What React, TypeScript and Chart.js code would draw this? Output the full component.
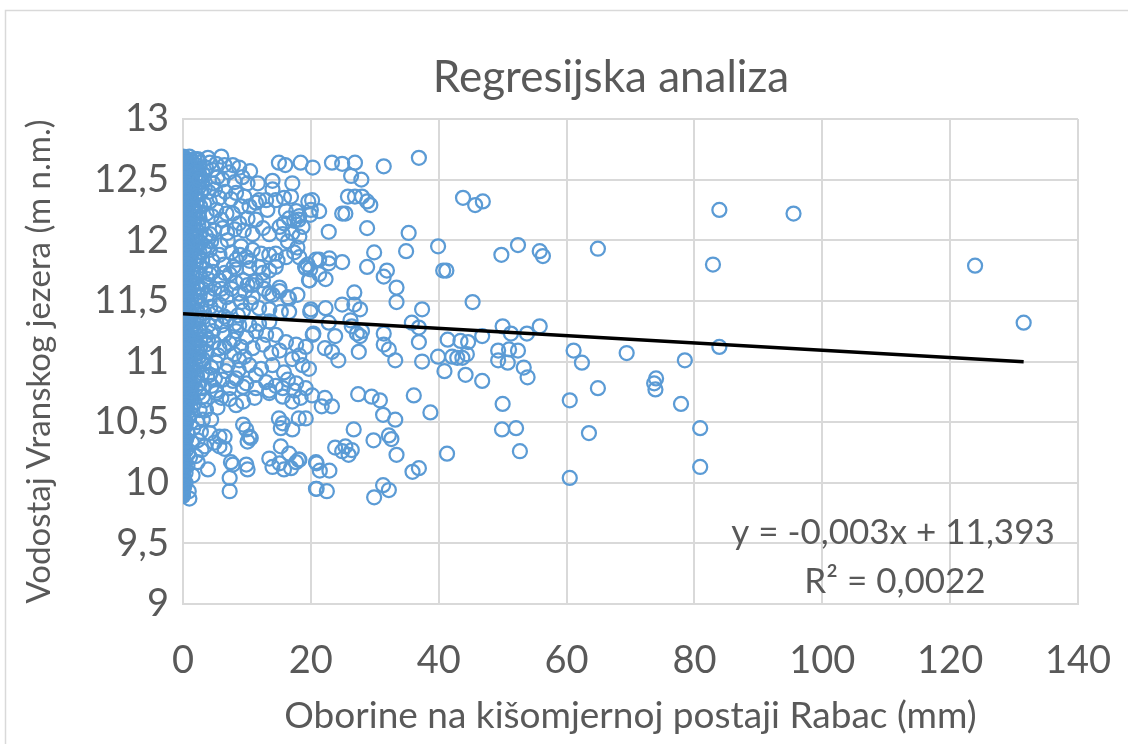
import { useEffect, useRef } from 'react';
import { Chart, registerables } from 'chart.js';

Chart.register(...registerables);

// ---------- data ----------
const CHART_TITLE = 'Regresijska analiza';
const X_TITLE = 'Oborine na kišomjernoj postaji Rabac (mm)';
const Y_TITLE = 'Vodostaj Vranskog jezera (m n.m.)';
const TREND_SLOPE = -0.003;
const TREND_INTERCEPT = 11.393;
const TREND_LABEL = 'y = -0,003x + 11,393';
const R2_LABEL = 'R² = 0,0022';
const X_MIN = 0, X_MAX = 140, X_STEP = 20;
const Y_MIN = 9, Y_MAX = 13, Y_STEP = 0.5;

// water level on days without rain (x = 0 mm)
const DRY_DAY_LEVELS = [
  9.90, 9.92, 9.93, 9.95, 9.97, 9.99, 10.01, 10.02, 10.04, 10.06, 10.08, 10.10, 10.11, 10.13, 10.15,
  10.17, 10.19, 10.20, 10.22, 10.24, 10.26, 10.28, 10.29, 10.31, 10.33, 10.35, 10.37, 10.38, 10.40,
  10.42, 10.44, 10.46, 10.47, 10.49, 10.51, 10.53, 10.55, 10.56, 10.58, 10.60, 10.62, 10.64, 10.65,
  10.67, 10.69, 10.71, 10.73, 10.74, 10.76, 10.78, 10.80, 10.82, 10.83, 10.85, 10.87, 10.89, 10.91,
  10.92, 10.94, 10.96, 10.98, 11.00, 11.01, 11.03, 11.05, 11.07, 11.09, 11.10, 11.12, 11.14, 11.16,
  11.18, 11.19, 11.21, 11.23, 11.25, 11.27, 11.28, 11.30, 11.32, 11.34, 11.36, 11.37, 11.39, 11.41,
  11.43, 11.45, 11.46, 11.48, 11.50, 11.52, 11.54, 11.55, 11.57, 11.59, 11.61, 11.63, 11.64, 11.66,
  11.68, 11.70, 11.72, 11.73, 11.75, 11.77, 11.79, 11.81, 11.82, 11.84, 11.86, 11.88, 11.90, 11.91,
  11.93, 11.95, 11.97, 11.99, 12.00, 12.02, 12.04, 12.06, 12.08, 12.09, 12.11, 12.13, 12.15, 12.17,
  12.18, 12.20, 12.22, 12.24, 12.26, 12.27, 12.29, 12.31, 12.33, 12.35, 12.36, 12.38, 12.40, 12.42,
  12.44, 12.45, 12.47, 12.49, 12.51, 12.53, 12.54, 12.56, 12.58, 12.60, 12.62, 12.63, 12.65, 12.67, 12.69,
];

// more dry days (the x = 0 column is solid in the source)
const DRY_DAY_LEVELS_2 = [
  9.89, 9.91, 9.94, 9.96, 9.98, 10.00, 10.03, 10.05, 10.07, 10.09, 10.12, 10.14, 10.16, 10.18, 10.21,
  10.23, 10.25, 10.27, 10.30, 10.32, 10.34, 10.36, 10.39, 10.41, 10.43, 10.45, 10.48, 10.50, 10.52,
  10.54, 10.57, 10.59, 10.61, 10.63, 10.66, 10.68, 10.70, 10.72, 10.75, 10.77, 10.79, 10.81, 10.84,
  10.86, 10.88, 10.90, 10.93, 10.95, 10.97, 10.99, 11.02, 11.04, 11.06, 11.08, 11.11, 11.13, 11.15,
  11.17, 11.20, 11.22, 11.24, 11.26, 11.29, 11.31, 11.33, 11.35, 11.38, 11.40, 11.42, 11.44, 11.47,
  11.49, 11.51, 11.53, 11.56, 11.58, 11.60, 11.62, 11.65, 11.67, 11.69, 11.71, 11.74, 11.76, 11.78,
  11.80, 11.83, 11.85, 11.87, 11.89, 11.92, 11.94, 11.96, 11.98, 12.01, 12.03, 12.05, 12.07, 12.10,
  12.12, 12.14, 12.16, 12.19, 12.21, 12.23, 12.25, 12.28, 12.30, 12.32, 12.34, 12.37, 12.39, 12.41,
  12.43, 12.46, 12.48, 12.50, 12.52, 12.55, 12.57, 12.59, 12.61, 12.64, 12.66, 12.68,
];

// [rain mm, level m] light rain days
const LIGHT_RAIN = [
  [0.3, 12.68], [0.6, 12.66], [1.0, 12.69], [1.4, 12.65], [1.8, 12.67], [0.8, 12.62], [1.2, 12.60],
  [2.0, 12.62], [2.6, 12.64], [0.4, 12.57], [1.6, 12.56], [2.2, 12.58],
  [0.3, 12.52], [0.7, 12.49], [1.1, 12.53], [1.5, 12.46], [2.0, 12.50], [2.5, 12.44], [3.0, 12.48],
  [0.5, 12.42], [0.9, 12.38], [1.3, 12.41], [1.8, 12.36], [2.3, 12.33], [2.8, 12.39], [3.4, 12.43],
  [0.4, 12.33], [1.0, 12.30], [1.6, 12.28], [3.3, 12.30], [2.0, 12.24], [0.6, 12.25],
  [1.2, 12.21], [2.6, 12.18], [0.4, 12.17], [1.8, 12.14], [3.0, 12.12], [0.8, 12.10], [1.4, 12.06],
  [2.2, 12.08], [3.6, 12.04], [0.5, 12.02], [1.0, 11.99], [2.8, 11.98], [1.9, 11.96], [0.7, 11.94], [3.3, 11.92],
  [1.4, 11.90], [2.4, 11.87], [0.5, 11.86], [1.1, 11.82], [2.0, 11.80], [3.0, 11.83], [0.8, 11.77],
  [1.6, 11.74], [2.6, 11.72], [3.5, 11.76], [0.4, 11.70], [1.2, 11.67], [2.2, 11.64], [0.9, 11.61],
  [1.8, 11.58], [3.0, 11.60],
  [0.5, 11.55], [1.3, 11.52], [2.4, 11.50], [0.8, 11.47], [1.7, 11.44], [2.9, 11.46], [0.4, 11.41],
  [1.2, 11.38], [2.1, 11.35], [3.3, 11.40], [0.7, 11.32], [1.6, 11.29], [2.6, 11.27], [0.4, 11.24],
  [1.1, 11.20], [2.0, 11.17], [3.6, 11.21], [0.8, 11.13], [1.5, 11.10], [2.4, 11.07], [0.5, 11.05],
  [1.2, 11.02], [2.8, 11.00],
  [0.6, 10.96], [1.6, 10.93], [2.2, 10.88], [0.9, 10.85], [1.4, 10.80], [0.4, 10.77], [2.5, 10.74],
  [1.0, 10.70], [1.8, 10.66], [0.6, 10.62],
  [1.2, 10.57], [0.5, 10.50], [1.6, 10.45], [0.8, 10.40], [1.4, 10.33], [0.5, 10.27], [1.1, 10.21],
  [0.7, 10.14], [1.5, 10.06], [0.4, 10.00], [0.9, 9.93],
  [3.8, 11.55], [4.0, 11.30], [3.7, 11.08], [4.4, 10.95], [3.9, 11.68], [2.7, 11.12], [3.2, 10.98],
  [2.6, 10.82], [3.4, 10.68], [3.0, 10.90],
];

// more light rain days, dense band next to the dry-day column
const LIGHT_RAIN_2 = [
  [0.2, 12.64], [0.5, 12.60], [0.9, 12.55], [1.3, 12.50], [0.2, 12.46], [0.6, 12.44], [1.0, 12.40],
  [0.3, 12.37], [0.7, 12.34], [1.2, 12.32], [0.2, 12.28], [0.5, 12.21], [0.9, 12.18], [1.5, 12.16],
  [0.2, 12.12], [0.6, 12.08], [1.1, 12.04], [0.3, 12.00], [0.8, 11.97], [1.5, 11.93], [0.2, 11.90],
  [0.6, 11.83], [1.0, 11.79], [0.3, 11.75], [0.7, 11.72], [1.4, 11.70], [0.2, 11.66], [0.6, 11.64],
  [1.0, 11.58], [0.3, 11.53], [0.9, 11.50], [0.2, 11.45], [0.6, 11.43], [1.0, 11.42], [0.3, 11.36],
  [0.9, 11.34], [0.2, 11.30], [0.5, 11.27], [1.3, 11.25], [0.3, 11.19], [0.7, 11.16], [0.2, 11.10],
  [1.0, 11.08], [0.4, 11.03], [0.8, 10.99], [0.2, 10.94], [1.2, 10.90], [0.4, 10.86], [0.8, 10.82],
  [0.2, 10.74], [1.3, 10.72], [0.5, 10.68], [0.2, 10.58], [0.9, 10.54], [0.3, 10.46], [0.5, 10.36],
  [0.2, 10.30], [0.8, 10.24], [0.3, 10.16], [0.4, 10.08], [0.2, 9.97],
  [4.6, 12.58], [5.4, 12.52], [3.6, 12.60], [7.2, 12.56], [8.1, 12.48], [9.3, 12.52], [5.0, 12.42],
  [6.6, 12.40], [7.5, 12.34], [9.6, 12.36], [4.5, 12.20], [6.0, 12.17], [7.8, 12.22], [8.8, 12.14],
  [4.9, 12.08], [6.9, 12.06], [9.5, 12.08], [4.4, 11.99], [5.9, 11.96], [7.6, 11.90], [8.9, 11.88],
  [4.6, 11.83], [6.4, 11.80], [7.9, 11.78], [4.9, 11.60], [6.2, 11.56], [7.6, 11.60], [9.7, 11.58],
  [5.1, 11.40], [6.9, 11.35], [8.6, 11.38], [9.4, 11.42], [4.8, 11.16], [6.1, 11.30], [7.9, 11.18],
  [8.8, 11.30], [5.5, 11.05], [6.5, 11.12], [8.0, 11.06], [9.6, 11.04], [5.0, 10.86], [6.7, 10.92],
  [8.7, 10.93], [4.5, 10.80], [6.0, 10.70], [7.8, 10.84], [4.4, 10.52], [5.4, 10.62], [2.2, 10.50],
  [2.8, 10.42], [3.4, 10.30], [2.0, 10.22], [2.6, 10.60], [3.8, 10.88], [4.2, 12.05], [3.7, 12.22],
  [4.0, 12.40], [3.5, 11.95], [4.3, 11.45], [3.9, 11.18],
];

// light rain days forming the solid blob next to the axis
const LIGHT_RAIN_3 = [
  [0.4, 12.62], [1.1, 12.64], [1.7, 12.60], [2.4, 12.66], [0.7, 12.55], [1.4, 12.52], [2.1, 12.54],
  [2.7, 12.52], [0.5, 12.47], [1.2, 12.44], [1.9, 12.42], [2.5, 12.48], [0.8, 12.35], [1.5, 12.32],
  [2.2, 12.37], [2.7, 12.28], [0.6, 12.20], [1.3, 12.26], [2.0, 12.19], [2.5, 12.23], [0.9, 12.13],
  [1.6, 12.10], [2.4, 12.12], [0.5, 12.07], [1.2, 12.12], [1.9, 12.02], [2.6, 12.04], [0.7, 11.98],
  [1.5, 11.99], [2.2, 11.94], [0.4, 11.93], [1.0, 11.89], [1.8, 11.86], [2.6, 11.90], [0.6, 11.80],
  [1.3, 11.76], [2.1, 11.73], [2.7, 11.79], [0.9, 11.68], [1.5, 11.64], [2.4, 11.60], [0.5, 11.59],
  [1.1, 11.55], [1.9, 11.50], [2.6, 11.54], [0.7, 11.48], [1.4, 11.45], [2.2, 11.41], [0.4, 11.37],
  [1.0, 11.33], [1.8, 11.31], [2.5, 11.35], [0.6, 11.28], [1.3, 11.24], [2.1, 11.22], [2.7, 11.18],
  [0.9, 11.16], [1.7, 11.13], [2.3, 11.10], [0.5, 11.09], [1.2, 11.06], [1.9, 11.03], [2.5, 11.04],
  [0.7, 10.99], [1.4, 10.96], [2.0, 10.97], [0.4, 10.91], [1.1, 10.88], [1.8, 10.84], [0.6, 10.80],
  [1.3, 10.76], [2.0, 10.78], [0.8, 10.72], [1.5, 10.70], [0.5, 10.65], [1.2, 10.62], [0.9, 10.55],
  [0.4, 10.48],
];

// moderate rain days (about 2–20 mm)
const MODERATE_RAIN = [
  [2.3, 12.67], [3.9, 12.68], [6.0, 12.69], [4.2, 12.64], [5.2, 12.63], [6.5, 12.62], [7.8, 12.62],
  [8.8, 12.60], [10.5, 12.57], [15.0, 12.64], [16.0, 12.62], [18.4, 12.64], [3.1, 12.55], [2.6, 12.50],
  [10.1, 12.47], [11.7, 12.47], [14.0, 12.49], [17.1, 12.47], [4.7, 12.47], [6.2, 12.50], [8.3, 12.39],
  [11.9, 12.33], [13.0, 12.33], [14.5, 12.33], [15.8, 12.35], [16.9, 12.36], [14.0, 12.42], [9.1, 12.28],
  [10.4, 12.28], [11.4, 12.31], [13.2, 12.25], [5.7, 12.35], [4.2, 12.32], [5.2, 12.25], [6.8, 12.22],
  [16.1, 12.24], [17.7, 12.24], [16.6, 12.18], [15.8, 12.14], [15.1, 12.11], [17.4, 12.16], [18.2, 12.20],
  [18.7, 12.11], [20.0, 12.25], [10.1, 12.18], [11.4, 12.17], [12.5, 12.10], [13.5, 12.05], [10.9, 12.05],
  [8.1, 12.09], [6.2, 12.10], [7.0, 12.00], [15.6, 12.05], [17.1, 12.06], [18.2, 12.03], [16.4, 11.99],
  [17.9, 11.94], [9.1, 11.95], [10.9, 11.92], [12.2, 11.89], [13.5, 11.88], [14.5, 11.89], [4.2, 11.92],
  [5.7, 11.88], [8.3, 11.84], [10.4, 11.83], [20.8, 11.84], [19.5, 11.80], [18.1, 12.17],
  [9.9, 11.86], [11.9, 11.78], [13.5, 11.75], [14.8, 11.83], [16.1, 11.86], [17.4, 11.90], [18.2, 11.86],
  [4.2, 11.72], [5.7, 11.67], [7.3, 11.72], [9.4, 11.67], [10.9, 11.63], [12.5, 11.67], [13.5, 11.56],
  [15.1, 11.61], [16.4, 11.53], [8.8, 11.56], [6.8, 11.53], [10.9, 11.53],
  [4.7, 11.74], [6.5, 11.73], [8.3, 11.76], [10.4, 11.77], [12.5, 11.73], [14.5, 11.78], [19.2, 11.77],
  [19.7, 11.67], [3.6, 11.63], [6.0, 11.60], [8.3, 11.65], [10.1, 11.63], [11.4, 11.66], [12.7, 11.60],
  [14.0, 11.55], [15.1, 11.58], [16.6, 11.52], [17.9, 11.55], [4.2, 11.52], [5.7, 11.47], [7.3, 11.44],
  [9.1, 11.49], [10.6, 11.48], [11.9, 11.44], [13.5, 11.43], [15.3, 11.41], [16.6, 11.41], [20.0, 11.43],
  [3.1, 11.36], [5.2, 11.33], [6.5, 11.37], [8.1, 11.31], [10.4, 11.30], [11.9, 11.31], [13.5, 11.33],
  [2.6, 11.25], [4.7, 11.25], [6.5, 11.22], [8.3, 11.25], [9.9, 11.20], [11.4, 11.25], [13.0, 11.22],
  [14.5, 11.22], [16.1, 11.16], [17.7, 11.14], [19.2, 11.12], [20.3, 11.22], [3.6, 11.14], [5.7, 11.11],
  [7.3, 11.15], [9.1, 11.12], [10.9, 11.11], [12.5, 11.14], [13.8, 11.07], [15.1, 11.09], [3.1, 11.02],
  [5.2, 10.99], [7.0, 10.97], [8.8, 11.01], [10.4, 10.97], [12.2, 10.94], [14.0, 10.97], [15.8, 10.91],
  [17.1, 11.02], [18.2, 11.05], [18.7, 10.97], [19.7, 10.94], [4.2, 10.89], [6.2, 10.85], [8.3, 10.86],
  [9.9, 10.82], [11.4, 10.89], [13.0, 10.83], [14.5, 10.80], [16.4, 10.85], [17.7, 10.82], [19.2, 10.78],
  [3.1, 10.78], [5.2, 10.76], [7.3, 10.78], [9.4, 10.79], [11.4, 10.78], [13.5, 10.76], [15.6, 10.78],
  [17.4, 10.76],
  [3.1, 10.71], [5.2, 10.74], [7.3, 10.69], [8.3, 10.64], [9.4, 10.67], [11.2, 10.70], [13.5, 10.74],
  [15.6, 10.71], [17.1, 10.67], [18.4, 10.70], [3.6, 10.60], [3.1, 10.52], [4.2, 10.41], [5.7, 10.38],
  [6.5, 10.38], [5.7, 10.30], [6.5, 10.28], [4.9, 10.33], [2.9, 10.27], [2.3, 10.35], [9.4, 10.48],
  [9.9, 10.44], [10.4, 10.38], [10.1, 10.34], [10.6, 10.37], [15.0, 10.53], [15.6, 10.49], [15.3, 10.45],
  [17.1, 10.44], [19.2, 10.53], [15.3, 10.30], [16.6, 10.24], [13.5, 10.20], [14.0, 10.13], [15.1, 10.16],
  [15.8, 10.11], [16.9, 10.12], [17.7, 10.17], [18.2, 10.19], [7.5, 10.17], [7.8, 10.15], [9.9, 10.15],
  [10.1, 10.11], [3.9, 10.11], [2.3, 10.17], [7.3, 10.04], [7.3, 9.93], [1.0, 9.87], [18.1, 10.53],
];

// heavy rain days (above about 19 mm)
const HEAVY_RAIN = [
  [20.3, 12.60], [23.3, 12.64], [24.9, 12.63], [26.9, 12.64], [31.4, 12.61], [36.9, 12.68], [26.3, 12.53],
  [27.9, 12.50], [25.8, 12.36], [26.9, 12.36], [28.0, 12.36], [28.8, 12.32], [29.3, 12.29], [20.2, 12.33],
  [19.6, 12.32], [21.3, 12.24], [19.9, 12.21], [24.9, 12.22], [25.4, 12.22], [22.8, 12.07], [28.8, 12.10],
  [35.3, 12.06], [43.8, 12.35], [45.7, 12.29], [46.9, 12.32], [39.9, 11.95], [49.8, 11.88], [52.4, 11.96],
  [55.8, 11.91], [56.3, 11.87], [34.9, 11.91], [29.9, 11.90], [28.8, 11.78], [31.9, 11.75], [31.4, 11.70],
  [33.4, 11.61], [33.4, 11.49], [26.8, 11.57], [24.9, 11.47], [26.8, 11.47], [27.7, 11.43], [37.4, 11.43],
  [45.3, 11.49], [21.3, 11.84], [22.9, 11.85], [22.8, 11.81], [24.9, 11.82], [19.1, 11.78], [19.9, 11.76],
  [19.8, 11.67], [21.3, 11.72], [22.3, 11.68], [41.2, 11.75], [40.7, 11.75], [19.9, 11.41], [22.3, 11.44],
  [22.8, 11.32], [20.4, 11.23], [23.8, 11.21], [26.2, 11.34], [26.4, 11.29], [27.2, 11.23], [27.7, 11.21],
  [28.0, 11.25], [31.4, 11.23], [35.8, 11.32], [36.9, 11.28], [36.9, 11.16], [22.2, 11.11], [23.3, 11.08],
  [24.3, 11.01], [27.5, 11.08], [31.4, 11.14], [32.2, 11.10], [33.2, 11.01], [37.4, 11.00], [39.9, 11.04],
  [41.4, 11.18], [43.4, 11.17], [44.6, 11.16], [42.1, 11.04], [42.9, 11.03], [43.7, 11.03], [44.4, 11.06],
  [40.9, 10.92], [44.2, 10.89], [46.8, 10.84], [50.0, 11.29], [51.3, 11.23], [53.8, 11.23], [55.8, 11.29],
  [46.8, 11.21], [49.3, 11.09], [51.0, 11.10], [52.4, 11.09], [49.3, 11.01], [50.8, 10.99], [53.3, 10.95],
  [53.9, 10.87], [27.4, 10.73], [29.5, 10.71], [30.8, 10.68], [36.1, 10.72], [38.7, 10.58], [31.3, 10.56],
  [33.2, 10.52], [50.0, 10.65], [20.2, 10.72], [22.2, 10.70], [23.3, 10.63], [21.7, 10.63], [26.7, 10.44],
  [23.8, 10.29], [25.4, 10.30], [25.9, 10.23], [26.4, 10.27], [24.9, 10.26], [29.8, 10.35], [32.2, 10.39],
  [32.6, 10.36], [33.4, 10.23], [41.3, 10.24], [49.9, 10.44], [52.1, 10.45], [52.7, 10.26], [20.9, 10.16],
  [21.4, 10.10], [22.9, 10.10], [35.9, 10.09], [36.9, 10.12], [18.1, 10.19], [20.9, 9.95], [22.5, 9.93],
  [29.9, 9.88], [32.2, 9.94], [31.3, 9.98], [20.8, 10.17], [20.8, 9.95],
  [64.9, 11.93], [83.9, 12.25], [95.5, 12.22], [82.9, 11.80], [123.9, 11.79], [131.5, 11.32], [61.1, 11.09],
  [62.4, 10.99], [69.4, 11.07], [78.5, 11.01], [83.9, 11.12], [64.9, 10.78], [74.0, 10.86], [73.7, 10.82],
  [73.9, 10.77], [60.5, 10.68], [77.9, 10.65], [63.5, 10.41], [80.9, 10.45], [80.9, 10.13], [60.5, 10.04],
];

// ---------- styles ----------
const FONT = 'Lato';
const TEXT_COLOR = '#595959';
const GRID_COLOR = '#d9d9d9';
const MARKER_COLOR = '#5B9BD5';

const fmt = (v: number) => String(v).replace('.', ',');

const decorPlugin = {
  id: 'decor',
  beforeDraw(chart: any) {
    const { ctx, width, height } = chart;
    ctx.save();
    ctx.fillStyle = '#ffffff';
    ctx.fillRect(0, 0, width, height);
    ctx.strokeStyle = GRID_COLOR;
    ctx.lineWidth = 1.5;
    ctx.strokeRect(5.5, 10.5, width + 20, height + 20);
    ctx.restore();
  },
  afterDraw(chart: any) {
    const { ctx } = chart;
    ctx.save();
    ctx.fillStyle = TEXT_COLOR;
    ctx.textAlign = 'center';
    ctx.textBaseline = 'alphabetic';
    ctx.font = `44px ${FONT}`;
    ctx.fillText(CHART_TITLE, 611, 92);
    ctx.font = `35px ${FONT}`;
    ctx.fillText(TREND_LABEL, 893, 544);
    ctx.fillText(R2_LABEL, 895, 593);
    ctx.restore();
  },
};

export default function App() {
  const ref = useRef<HTMLCanvasElement | null>(null);

  useEffect(() => {
    if (!ref.current) return;
    const toPoints = (arr: number[][]) => arr.map(([x, y]) => ({ x, y }));
    const scatter = [
      ...DRY_DAY_LEVELS.map((y) => ({ x: 0, y })),
      ...DRY_DAY_LEVELS_2.map((y) => ({ x: 0, y })),
      ...toPoints(LIGHT_RAIN),
      ...toPoints(LIGHT_RAIN_2),
      ...toPoints(LIGHT_RAIN_3),
      ...toPoints(MODERATE_RAIN),
      ...toPoints(HEAVY_RAIN),
    ];
    const maxRain = Math.max(...scatter.map((p) => p.x));
    const trend = [
      { x: 0, y: TREND_INTERCEPT },
      { x: maxRain, y: TREND_INTERCEPT + TREND_SLOPE * maxRain },
    ];

    const chart = new Chart(ref.current, {
      type: 'scatter',
      data: {
        datasets: [
          {
            type: 'line',
            data: trend,
            borderColor: '#000000',
            borderWidth: 3.5,
            pointRadius: 0,
            fill: false,
            order: 0,
          } as any,
          {
            data: scatter,
            pointStyle: 'circle',
            pointRadius: 7,
            pointBorderWidth: 2.25,
            borderColor: MARKER_COLOR,
            backgroundColor: 'rgba(0,0,0,0)',
            order: 1,
          },
        ],
      },
      options: {
        animation: false,
        responsive: false,
        devicePixelRatio: 1,
        layout: { padding: { left: 0, top: 119, right: 50, bottom: 0 } },
        plugins: { legend: { display: false }, tooltip: { enabled: false } },
        scales: {
          x: {
            type: 'linear',
            min: X_MIN,
            max: X_MAX,
            afterFit: (s: any) => {
              s.height = 140;
              s.paddingLeft = 0;
              s.paddingRight = 0;
            },
            ticks: {
              stepSize: X_STEP,
              padding: 34,
              color: TEXT_COLOR,
              font: { family: FONT, size: 38 },
              callback: (v: any) => fmt(v),
            },
            grid: { color: GRID_COLOR, lineWidth: 2, drawTicks: false },
            border: { display: true, color: GRID_COLOR, width: 2 },
            title: {
              display: true,
              text: X_TITLE,
              color: TEXT_COLOR,
              font: { family: FONT, size: 37 },
              padding: { top: 0, bottom: 6 },
            },
          },
          y: {
            type: 'linear',
            min: Y_MIN,
            max: Y_MAX,
            afterFit: (s: any) => {
              s.width = 183;
              s.paddingTop = 0;
              s.paddingBottom = 0;
            },
            ticks: {
              stepSize: Y_STEP,
              padding: 14,
              color: TEXT_COLOR,
              font: { family: FONT, size: 38 },
              callback: (v: any) => fmt(v),
            },
            grid: { color: GRID_COLOR, lineWidth: 2, drawTicks: false },
            border: { display: true, color: GRID_COLOR, width: 2 },
            title: {
              display: true,
              text: Y_TITLE,
              color: TEXT_COLOR,
              font: { family: FONT, size: 33 },
              padding: { top: 20, bottom: 0 },
            },
          },
        },
      },
      plugins: [decorPlugin],
    });
    return () => chart.destroy();
  }, []);

  return (
    <div style={{ position: 'absolute', left: 0, top: 0, width: 1128, height: 744 }}>
      <canvas ref={ref} width={1128} height={744} />
    </div>
  );
}
